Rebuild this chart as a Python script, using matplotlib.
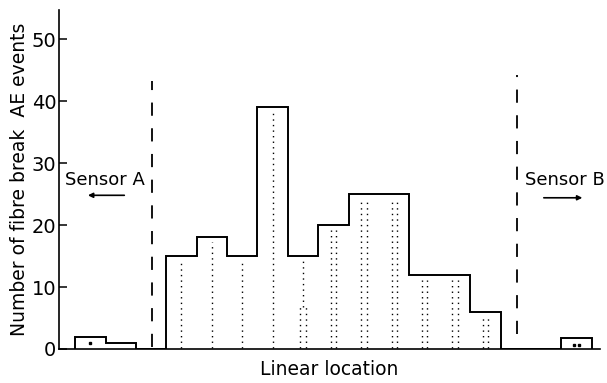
import numpy as np
import matplotlib
matplotlib.use("Agg")
import matplotlib.pyplot as plt

plt.rcParams['font.family'] = 'DejaVu Sans'
plt.rcParams['lines.scale_dashes'] = False

# histogram of fibre break events along the specimen (one bin per location step)
bins = np.arange(17)
counts = [2, 1, 0, 15, 18, 15, 39, 15, 20, 25, 25, 12, 12, 6, 0, 0, 1.8]
# how the dotted hatching looks in each bar: 0 none, 1 single column, 2 double
dot_cols = [1, 0, 0, 1, 1, 1, 1, 1, 2, 2, 2, 2, 2, 2, 0, 0, 2]
# height below which a single-column bar switches to double dots
double_below = [0, 0, 0, 0, 0, 0, 0, 6.8, 0, 0, 0, 0, 0, 0, 0, 0, 0]

sensor_pos = [2.53, 14.53]
sensor_top = [43.2, 44.2]
sensor_bottom = [0.3, 2.4]
yticks = [0, 10, 20, 30, 40, 50]

fig = plt.figure(figsize=(6.07, 3.83), dpi=100)
ax = fig.add_axes([59/607, 1 - 349/383, (600 - 59)/607, (349 - 10)/383])

# step outline of the histogram
edges = np.append(bins, bins[-1] + 1)
ax.stairs(counts, edges, baseline=0, color='black', linewidth=1.4)

# dotted hatching inside bars
dot_style = dict(color='black', linewidth=1.0, linestyle=(0, (1.0, 3.0)))
for b, h, n, d in zip(bins, counts, dot_cols, double_below):
    if n == 0:
        continue
    top = h - 0.8
    c = b + 0.5
    if n == 1:
        if h <= 2:
            ax.plot([c], [1.0], 's', color='black', markersize=1.5)
            continue
        ax.plot([c, c], [max(d, 0.2), top], **dot_style)
        if d > 0:
            ax.plot([c - 0.09, c - 0.09], [0.2, d], **dot_style)
            ax.plot([c + 0.09, c + 0.09], [0.2, d], **dot_style)
    else:
        if h <= 2:
            ax.plot([c - 0.09, c + 0.09], [0.7, 0.7], 's', color='black', markersize=1.5)
            continue
        ax.plot([c - 0.09, c - 0.09], [0.2, top], **dot_style)
        ax.plot([c + 0.09, c + 0.09], [0.2, top], **dot_style)

# sensor limits
for x, y0, y1 in zip(sensor_pos, sensor_bottom, sensor_top):
    ax.plot([x, x], [y0, y1], color='black', linewidth=1.3, linestyle=(0, (9.5, 9.0)))

ax.text(0.99, 27.3, 'Sensor A', fontsize=13, ha='center', va='center')
ax.annotate('', xy=(0.33, 24.8), xytext=(1.71, 24.8),
            arrowprops=dict(arrowstyle='-|>', color='black', lw=1.2, mutation_scale=7))
ax.text(16.1, 27.3, 'Sensor B', fontsize=13, ha='center', va='center')
ax.annotate('', xy=(16.78, 24.4), xytext=(15.33, 24.4),
            arrowprops=dict(arrowstyle='-|>', color='black', lw=1.2, mutation_scale=7))

ax.set_xlim(-0.53, 17.27)
ax.set_ylim(0, 54.7)
ax.set_yticks(yticks)
ax.set_xticks([])
ax.tick_params(axis='y', direction='in', length=6, width=1.1, labelsize=14, pad=2)
for s in ['top', 'right']:
    ax.spines[s].set_visible(False)
for s in ['left', 'bottom']:
    ax.spines[s].set_linewidth(1.2)

ax.set_ylabel('Number of fibre break  AE events', fontsize=13.5, labelpad=2)
ax.set_xlabel('Linear location', fontsize=13.5, labelpad=8)

fig.savefig('out.png', dpi=100)
